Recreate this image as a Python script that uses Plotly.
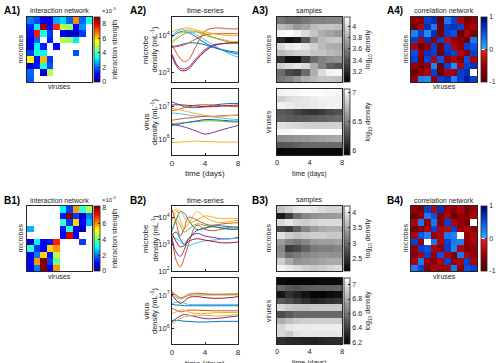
import plotly.graph_objects as go

# ---------------- data ----------------
cells = list(range(1, 11))

# interaction strength (x1e-5); 0 = no interaction
A1_strength = [
    [2.2, 1.8, 1.0, 0.9, 2.6, 3.0, 2.0, 6.6, 2.0, 3.6],
    [1.4, 3.2, 8.6, 1.2, 7.4, 5.0, 4.6, 1.1, 2.4, 0],
    [1.3, 7.6, 3.6, 1.6, 0, 1.0, 0.7, 0.5, 1.6, 0],
    [0.9, 2.0, 0, 1.4, 0, 4.9, 4.6, 3.2, 0, 0],
    [1.0, 3.3, 1.3, 0, 1.1, 0, 0, 0, 0, 0],
    [1.6, 3.6, 3.3, 0, 0, 0, 0, 1.8, 0, 0],
    [5.6, 1.2, 6.2, 1.6, 0, 0, 0, 0, 0, 0],
    [0.8, 1.3, 3.6, 1.8, 0, 0, 0, 0, 0, 0],
    [2.0, 0, 0.7, 4.9, 0, 0, 0, 0, 0, 0],
    [1.9, 0, 0, 0, 0, 0, 0, 0, 0, 0],
]
B1_strength = [
    [0, 0, 0, 0, 0, 3.0, 1.5, 6.0, 3.5, 4.5],
    [0, 0, 0, 0, 0, 1.2, 8.5, 1.5, 0.5, 2.0],
    [0, 0, 0, 0, 0, 3.5, 1.5, 5.5, 1.0, 2.5],
    [2.5, 0, 0, 0, 0, 1.2, 3.5, 1.0, 0.5, 0],
    [0, 0, 0, 0, 0, 1.0, 7.5, 1.0, 0, 0],
    [0.5, 3.0, 1.0, 1.2, 7.0, 0, 0, 0, 1.5, 0],
    [3.5, 1.5, 1.0, 5.5, 6.0, 0, 0, 0, 0, 0],
    [1.0, 2.0, 5.5, 1.2, 4.5, 0, 0, 0, 0, 0],
    [1.0, 6.0, 8.5, 1.5, 4.0, 0, 0, 0, 0, 0],
    [1.0, 2.0, 8.5, 1.0, 6.0, 0, 0, 0, 0, 0],
]
A4_corr = [
    [-0.5, -0.6, 0.6, 0.7, -0.8, 0.3, 0.6, -0.4, -0.7, -0.5],
    [-0.8, -0.4, 0.7, 0.3, -0.8, 0.6, 0.7, 0.6, -0.5, -0.4],
    [0.25, 0.6, 0.2, 0.7, -0.7, 0.6, 0.5, -0.8, -0.4, -0.7],
    [0.6, -0.4, 0.7, -0.5, 0.6, -0.3, -0.5, -0.6, -0.8, 0.3],
    [-0.4, -0.8, -0.5, 0.6, -0.7, 0.6, -0.4, -0.5, 0.6, 0.5],
    [0.5, -0.5, 0.7, 0.6, -0.8, 0.7, 0.6, -0.4, -0.6, 0.6],
    [0.6, -0.8, 0.6, -0.4, 0.5, -0.5, -0.4, -0.6, 0.5, -0.4],
    [-0.5, -0.8, -0.5, 0.25, -0.8, 0.6, 0.2, -0.4, 0.6, 0.7],
    [-0.8, -0.5, -0.4, 0.6, -0.8, -0.4, -0.5, 0.6, 0.7, 0.0],
    [-0.5, 0.25, 0.2, -0.5, 0.6, 0.7, 0.25, 0.6, 0.8, 0.6],
]
B4_corr = [
    [-0.5, -0.7, 0.6, -0.4, 0.7, -0.5, -0.6, -0.4, -0.7, -0.5],
    [-0.8, -0.5, 0.3, 0.5, -0.7, -0.4, -0.8, -0.5, -0.6, -0.4],
    [-0.4, 0.3, -0.5, 0.3, -0.6, 0.6, -0.4, -0.5, -0.7, 0.0],
    [-0.7, -0.6, -0.4, 0.6, -0.4, -0.3, 0.6, -0.5, -0.4, -0.6],
    [-0.4, 0.5, 0.25, -0.5, -0.4, 0.3, 0.25, 0.0, -0.5, -0.4],
    [0.6, -0.5, 0.0, 0.3, -0.4, 0.6, 0.3, 0.25, -0.5, -0.4],
    [-0.5, 0.6, 0.5, -0.4, -0.5, 0.6, 0.25, -0.4, -0.6, -0.5],
    [-0.6, -0.4, 0.6, -0.5, 0.5, -0.4, -0.7, 0.3, -0.4, -0.5],
    [-0.4, 0.3, -0.5, -0.6, -0.4, 0.6, -0.5, -0.4, 0.6, -0.4],
    [0.3, 0.6, -0.7, -0.4, -0.5, -0.4, 0.3, -0.6, 0.5, 0.6],
]

ts_days = [0, 0.5, 1, 1.5, 2, 3, 4, 5, 6, 7, 8]
# log10 densities
A2_microbe_log = [
    [3.95, 4.05, 4.10, 4.10, 4.08, 3.95, 3.80, 3.70, 3.62, 3.55, 3.50],
    [3.75, 3.55, 3.38, 3.30, 3.35, 3.75, 4.12, 4.20, 4.20, 4.18, 4.18],
    [3.85, 3.95, 4.05, 4.12, 4.15, 4.10, 4.00, 3.95, 3.90, 3.85, 3.82],
    [3.50, 3.25, 3.12, 3.10, 3.15, 3.40, 3.62, 3.75, 3.78, 3.80, 3.80],
    [3.80, 3.90, 3.98, 4.05, 4.08, 4.10, 4.05, 3.95, 3.88, 3.82, 3.78],
    [4.00, 4.10, 4.15, 4.15, 4.12, 4.02, 3.88, 3.75, 3.62, 3.50, 3.42],
    [3.45, 3.20, 3.07, 3.05, 3.10, 3.35, 3.58, 3.72, 3.78, 3.80, 3.82],
    [3.70, 3.72, 3.75, 3.78, 3.80, 3.80, 3.75, 3.68, 3.62, 3.58, 3.55],
    [3.68, 3.70, 3.72, 3.75, 3.80, 3.92, 4.02, 4.05, 4.05, 4.05, 4.05],
    [4.10, 4.15, 4.18, 4.20, 4.20, 4.15, 4.10, 4.05, 4.02, 4.00, 4.00],
]
A2_virus_log = [
    [7.15, 7.10, 7.05, 7.00, 6.98, 6.97, 7.00, 7.05, 7.08, 7.10, 7.10],
    [6.88, 6.90, 6.93, 6.97, 7.00, 7.05, 7.06, 7.05, 7.03, 7.01, 7.00],
    [5.88, 5.89, 5.90, 5.91, 5.92, 5.93, 5.92, 5.91, 5.90, 5.90, 5.90],
    [6.45, 6.43, 6.40, 6.37, 6.33, 6.24, 6.15, 6.20, 6.28, 6.35, 6.42],
    [6.48, 6.48, 6.49, 6.50, 6.51, 6.54, 6.56, 6.56, 6.55, 6.53, 6.52],
    [6.80, 6.80, 6.78, 6.76, 6.74, 6.71, 6.70, 6.68, 6.65, 6.62, 6.60],
    [7.05, 7.06, 7.06, 7.05, 7.04, 7.02, 7.00, 7.00, 7.02, 7.04, 7.05],
    [6.42, 6.44, 6.47, 6.50, 6.52, 6.56, 6.60, 6.60, 6.58, 6.56, 6.55],
    [6.58, 6.60, 6.62, 6.64, 6.65, 6.68, 6.70, 6.70, 6.72, 6.73, 6.74],
    [6.95, 6.93, 6.90, 6.87, 6.84, 6.78, 6.73, 6.70, 6.70, 6.72, 6.74],
]
B2_microbe_log = [
    [3.50, 3.90, 4.20, 4.15, 3.90, 3.55, 3.60, 3.70, 3.68, 3.65, 3.62],
    [3.30, 2.40, 2.15, 2.50, 3.00, 3.70, 3.55, 3.50, 3.55, 3.60, 3.60],
    [4.15, 4.30, 3.90, 3.60, 3.75, 4.20, 4.00, 3.85, 3.80, 3.85, 3.88],
    [3.20, 2.70, 2.55, 2.80, 3.20, 3.40, 3.30, 3.25, 3.20, 3.20, 3.25],
    [3.45, 3.90, 3.70, 3.45, 3.55, 3.75, 3.70, 3.65, 3.60, 3.62, 3.65],
    [3.30, 3.20, 3.10, 2.95, 2.95, 3.05, 3.12, 3.15, 3.18, 3.20, 3.22],
    [3.40, 3.10, 2.90, 2.95, 3.10, 3.20, 3.15, 3.10, 3.05, 3.05, 3.08],
    [3.35, 3.45, 3.20, 3.00, 3.20, 3.50, 3.60, 3.65, 3.60, 3.55, 3.55],
    [4.30, 3.80, 3.30, 3.60, 4.00, 3.90, 3.75, 3.70, 3.75, 3.78, 3.80],
    [3.90, 4.20, 4.25, 4.00, 3.80, 3.90, 4.05, 4.00, 3.95, 3.95, 3.95],
]
B2_virus_log = [
    [6.72, 6.70, 6.70, 6.68, 6.68, 6.68, 6.68, 6.68, 6.68, 6.68, 6.68],
    [6.60, 6.55, 6.50, 6.52, 6.55, 6.55, 6.54, 6.53, 6.53, 6.53, 6.53],
    [6.45, 6.50, 6.55, 6.55, 6.50, 6.45, 6.45, 6.47, 6.48, 6.48, 6.48],
    [6.20, 6.30, 6.38, 6.42, 6.40, 6.35, 6.30, 6.30, 6.32, 6.35, 6.38],
    [7.05, 6.95, 6.88, 6.92, 6.98, 7.00, 7.00, 7.00, 7.00, 7.00, 7.00],
    [6.75, 6.78, 6.80, 6.75, 6.72, 6.72, 6.72, 6.72, 6.72, 6.72, 6.72],
    [7.00, 6.85, 6.75, 6.82, 6.92, 6.95, 6.92, 6.90, 6.90, 6.92, 6.95],
    [6.25, 6.25, 6.24, 6.22, 6.22, 6.20, 6.20, 6.21, 6.22, 6.22, 6.22],
    [7.10, 7.00, 6.92, 6.95, 7.02, 7.05, 7.03, 7.02, 7.02, 7.03, 7.03],
    [6.15, 6.22, 6.30, 6.35, 6.38, 6.40, 6.40, 6.38, 6.38, 6.40, 6.42],
]

sample_days = [0.5, 1.5, 2.5, 3.5, 4.5, 5.5, 6.5, 7.5]
A3_microbe_samples = [
    [3.55, 3.50, 3.50, 3.55, 3.60, 3.60, 3.62, 3.62],
    [3.85, 3.80, 3.70, 3.75, 3.85, 3.90, 3.90, 3.88],
    [4.12, 4.15, 4.10, 4.00, 3.90, 3.80, 3.75, 3.70],
    [3.20, 3.10, 3.15, 3.40, 3.70, 3.85, 3.90, 3.92],
    [4.00, 4.08, 4.10, 4.05, 3.95, 3.85, 3.80, 3.78],
    [3.85, 3.90, 3.95, 3.95, 3.90, 3.90, 3.85, 3.82],
    [3.25, 3.10, 3.10, 3.30, 3.50, 3.60, 3.65, 3.68],
    [3.95, 4.00, 4.05, 4.00, 3.80, 3.60, 3.45, 3.40],
    [3.50, 3.35, 3.30, 3.50, 3.80, 4.00, 4.10, 4.12],
    [3.55, 3.60, 3.70, 3.80, 3.85, 3.90, 3.90, 3.88],
]
A3_virus_samples = [
    [7.00, 7.02, 7.03, 7.04, 7.04, 7.04, 7.03, 7.03],
    [6.85, 6.90, 6.92, 6.95, 6.98, 7.00, 7.00, 7.00],
    [7.00, 6.98, 6.95, 6.95, 6.96, 6.98, 7.00, 7.00],
    [6.32, 6.28, 6.22, 6.16, 6.14, 6.18, 6.24, 6.28],
    [6.35, 6.33, 6.32, 6.32, 6.34, 6.36, 6.38, 6.40],
    [6.92, 6.90, 6.88, 6.86, 6.85, 6.85, 6.85, 6.85],
    [7.02, 7.03, 7.04, 7.05, 7.05, 7.05, 7.04, 7.04],
    [6.55, 6.56, 6.58, 6.60, 6.62, 6.64, 6.66, 6.68],
    [6.30, 6.32, 6.35, 6.38, 6.40, 6.40, 6.40, 6.40],
    [5.95, 5.95, 5.96, 5.96, 5.95, 5.95, 5.95, 5.95],
]
B3_microbe_samples = [
    [3.70, 3.85, 4.00, 4.05, 4.00, 3.90, 3.85, 3.85],
    [2.30, 2.60, 3.00, 3.20, 3.30, 3.35, 3.35, 3.40],
    [3.90, 4.00, 3.85, 3.80, 3.85, 3.90, 3.90, 3.90],
    [2.70, 2.60, 2.90, 3.20, 3.40, 3.50, 3.55, 3.55],
    [3.95, 3.80, 3.70, 3.75, 3.80, 3.80, 3.75, 3.75],
    [3.40, 3.20, 3.10, 3.20, 3.35, 3.40, 3.40, 3.45],
    [3.20, 2.60, 2.70, 2.90, 3.10, 3.15, 3.15, 3.20],
    [3.30, 3.00, 3.10, 3.20, 3.25, 3.30, 3.30, 3.30],
    [3.80, 3.50, 3.30, 3.35, 3.40, 3.45, 3.50, 3.50],
    [4.10, 4.00, 3.90, 3.80, 3.75, 3.80, 3.85, 3.90],
]
B3_virus_samples = [
    [6.22, 6.20, 6.20, 6.20, 6.20, 6.22, 6.22, 6.22],
    [6.55, 6.50, 6.48, 6.50, 6.52, 6.52, 6.53, 6.53],
    [6.25, 6.35, 6.30, 6.25, 6.20, 6.20, 6.22, 6.24],
    [6.50, 6.45, 6.40, 6.35, 6.30, 6.32, 6.35, 6.38],
    [6.95, 6.90, 6.88, 6.88, 6.90, 6.90, 6.90, 6.90],
    [6.45, 6.50, 6.55, 6.55, 6.55, 6.55, 6.55, 6.55],
    [6.80, 6.85, 6.90, 6.92, 6.92, 6.92, 6.92, 6.92],
    [6.95, 7.00, 7.02, 7.02, 7.03, 7.03, 7.03, 7.03],
    [6.95, 6.90, 6.98, 7.00, 7.00, 7.00, 7.00, 7.00],
    [6.35, 6.33, 6.32, 6.30, 6.30, 6.32, 6.33, 6.33],
]

# ---------------- style ----------------
W, H = 501, 363
DY = 189
FONT = "Liberation Sans"
TXT = "#262626"
LINE_COLORS = ['#0072BD', '#D95319', '#EDB120', '#7E2F8E', '#77AC30', '#4DBEEE', '#A2142F']
JET = [[0, 'rgb(0,0,143)'], [0.125, 'rgb(0,0,255)'], [0.375, 'rgb(0,255,255)'],
       [0.625, 'rgb(255,255,0)'], [0.875, 'rgb(255,0,0)'], [1, 'rgb(128,0,0)']]
GRAY = [[0, 'rgb(0,0,0)'], [1, 'rgb(255,255,255)']]
CORR = [[0, 'rgb(80,0,0)'], [0.25, 'rgb(150,0,5)'], [0.495, 'rgb(235,30,30)'],
        [0.495, 'rgb(255,255,255)'], [0.505, 'rgb(255,255,255)'],
        [0.505, 'rgb(50,175,255)'], [0.75, 'rgb(10,80,230)'], [1, 'rgb(0,0,110)']]


def px(v):
    return v / W


def py(v):
    return 1 - v / H


def an(k, axis):
    return axis if k == 1 else f'{axis}{k}'


fig = go.Figure()
layout = dict(width=W, height=H, margin=dict(l=0, r=0, t=0, b=0), autosize=False,
              paper_bgcolor='white', plot_bgcolor='white', showlegend=False,
              font=dict(family=FONT, size=8, color=TXT))
annotations = []

BOX = dict(showgrid=False, zeroline=False, showline=True, mirror=True,
           linecolor=TXT, linewidth=0.8)


def set_axes(k, x0, x1, y0, y1, xa, ya):
    layout['xaxis' if k == 1 else f'xaxis{k}'] = dict(domain=[px(x0), px(x1)], anchor=an(k, 'y'), **BOX, **xa)
    layout['yaxis' if k == 1 else f'yaxis{k}'] = dict(domain=[py(y1), py(y0)], anchor=an(k, 'x'), **BOX, **ya)


def text(x, y, s, size=8, angle=0, anchor='center', bold=False):
    annotations.append(dict(x=px(x), y=py(y), xref='paper', yref='paper', text=f'<b>{s}</b>' if bold else s,
                            showarrow=False, textangle=angle, xanchor=anchor, yanchor='middle',
                            font=dict(size=size, color=TXT if not bold else 'black', family=FONT)))


def cbar(x0, y0, y1, tickvals, ticktext, title=''):
    return dict(x=px(x0), xanchor='left', xpad=0, y=py((y0 + y1) / 2), yanchor='middle', ypad=0,
                len=(y1 - y0) / H, lenmode='fraction', thickness=6, thicknessmode='pixels',
                outlinewidth=0.8, outlinecolor=TXT, ticks='inside', ticklen=2, tickwidth=0.6,
                tickcolor=TXT, tickvals=tickvals, ticktext=ticktext,
                tickfont=dict(size=7, color=TXT, family=FONT),
                title=dict(text=title, side='right', font=dict(size=7, color=TXT, family=FONT)))


NOTICK = dict(showticklabels=False, ticks='')
TICKF = dict(size=7.5, color=TXT, family=FONT)

rows = [
    ('A', 0, A1_strength, A2_microbe_log, A2_virus_log, A3_microbe_samples, A3_virus_samples, A4_corr,
     [2.75, 4.5], [5.5, 7.55], [3.02, 4.16], [5.92, 7.06], 8.9,
     [3.2, 3.4, 3.6, 3.8, 4], ['3.2', '3.4', '3.6', '3.8', '4'], [6, 6.5, 7], ['6', '6.5', '7'],
     [1e3, 1e4], ['10<sup>3</sup>', '10<sup>4</sup>']),
    ('B', DY, B1_strength, B2_microbe_log, B2_virus_log, B3_microbe_samples, B3_virus_samples, B4_corr,
     [2.0, 4.42], [5.55, 7.5], [2.1, 4.2], [6.18, 7.09], 8.25,
     [2.5, 3, 3.5, 4], ['2.5', '3', '3.5', '4'], [6.2, 6.4, 6.6, 6.8, 7], ['6.2', '6.4', '6.6', '6.8', '7'],
     [1e2, 1e3, 1e4], ['10<sup>2</sup>', '10<sup>3</sup>', '10<sup>4</sup>']),
]

for r, (lab, dy, strength, mic, vir, smic, svir, corr, mrng, vrng, srng, vsrng, zmax,
        stv, stt, vtv, vtt, mtv, mtt) in enumerate(rows):
    base = r * 6
    T0, T1 = 17 + dy, 82 + dy
    B0, B1 = 89 + dy, 155 + dy

    # panel 1: interaction network
    k = base + 1
    set_axes(k, 27, 92, T0, T1, dict(range=[0.5, 10.5], **NOTICK), dict(range=[10.5, 0.5], **NOTICK))
    z = [[v if v > 0 else None for v in row] for row in strength]
    fig.add_trace(go.Heatmap(z=z, x=cells, y=cells, xaxis=an(k, 'x'), yaxis=an(k, 'y'),
                             colorscale=JET, zmin=0, zmax=zmax, hoverongaps=False,
                             colorbar=cbar(94, T0, T1, [0, 2, 4, 6, 8], ['0', '2', '4', '6', '8'],
                                           'interaction strength')))
    text(2, 11 + dy, f'{lab}1)', size=10, anchor='left', bold=True)
    text(59.5, 11 + dy, 'interaction network', size=7)
    text(100, 10 + dy, '×10<sup>-5</sup>', size=6, anchor='left')
    text(20, 49.5 + dy, 'microbes', size=7, angle=-90)
    text(59.5, 87 + dy, 'viruses', size=7)

    # panel 2: time series
    k = base + 2
    xa = dict(range=[0, 8], tickvals=[0, 4, 8], showticklabels=False, ticks='inside', ticklen=2, tickcolor=TXT)
    set_axes(k, 172, 238, T0, T1, xa,
             dict(type='log', range=mrng, tickvals=mtv, ticktext=mtt, ticks='inside', ticklen=2,
                  tickcolor=TXT, tickfont=TICKF))
    for i, row in enumerate(mic):
        fig.add_trace(go.Scatter(x=ts_days, y=[10 ** v for v in row], mode='lines',
                                 line=dict(color=LINE_COLORS[i % 7], width=1, shape='spline'),
                                 xaxis=an(k, 'x'), yaxis=an(k, 'y')))
    k = base + 3
    xa2 = dict(xa, showticklabels=True, tickfont=dict(size=8, color=TXT, family=FONT))
    set_axes(k, 172, 238, B0, B1, xa2,
             dict(type='log', range=vrng, tickvals=[1e6, 1e7], ticktext=['10<sup>6</sup>', '10<sup>7</sup>'],
                  ticks='inside', ticklen=2, tickcolor=TXT, tickfont=TICKF))
    for i, row in enumerate(vir):
        fig.add_trace(go.Scatter(x=ts_days, y=[10 ** v for v in row], mode='lines',
                                 line=dict(color=LINE_COLORS[i % 7], width=1, shape='spline'),
                                 xaxis=an(k, 'x'), yaxis=an(k, 'y')))
    text(128, 11 + dy, f'{lab}2)', size=10, anchor='left', bold=True)
    text(205, 11 + dy, 'time-series', size=7.5)
    text(145.5, 49.5 + dy, 'microbe', size=8, angle=-90)
    text(154, 49.5 + dy, 'density (mL<sup>-1</sup>)', size=7.5, angle=-90)
    text(145.5, 122 + dy, 'virus', size=8, angle=-90)
    text(154, 122 + dy, 'density (mL<sup>-1</sup>)', size=7.5, angle=-90)
    text(205, 174 + dy, 'time (days)', size=8)

    # panel 3: samples
    k = base + 4
    set_axes(k, 277, 342, T0, T1, dict(range=[0, 8], **NOTICK), dict(range=[10.5, 0.5], **NOTICK))
    fig.add_trace(go.Heatmap(z=smic, x=sample_days, y=cells, xaxis=an(k, 'x'), yaxis=an(k, 'y'),
                             colorscale=GRAY, zmin=srng[0], zmax=srng[1],
                             colorbar=cbar(344, T0, T1, stv, stt, 'log<sub>10</sub> density')))
    k = base + 5
    set_axes(k, 277, 342, B0, B1,
             dict(range=[0, 8], tickvals=[0, 4, 8], ticks='', tickfont=dict(size=7.5, color=TXT, family=FONT)),
             dict(range=[10.5, 0.5], **NOTICK))
    fig.add_trace(go.Heatmap(z=svir, x=sample_days, y=cells, xaxis=an(k, 'x'), yaxis=an(k, 'y'),
                             colorscale=GRAY, zmin=vsrng[0], zmax=vsrng[1],
                             colorbar=cbar(344, B0, B1, vtv, vtt, 'log<sub>10</sub> density')))
    text(250, 11 + dy, f'{lab}3)', size=10, anchor='left', bold=True)
    text(309.5, 11 + dy, 'samples', size=7)
    text(268, 49.5 + dy, 'microbes', size=7, angle=-90)
    text(268, 122 + dy, 'viruses', size=7, angle=-90)
    text(309.5, 174 + dy, 'time (days)', size=7)

    # panel 4: correlation network
    k = base + 6
    set_axes(k, 411, 477, T0, T1, dict(range=[0.5, 10.5], **NOTICK), dict(range=[10.5, 0.5], **NOTICK))
    fig.add_trace(go.Heatmap(z=corr, x=cells, y=cells, xaxis=an(k, 'x'), yaxis=an(k, 'y'),
                             colorscale=CORR, zmin=-1, zmax=1,
                             colorbar=cbar(481, T0, T1, [-1, 0, 1], ['-1', '0', '1'])))
    text(385, 11 + dy, f'{lab}4)', size=10, anchor='left', bold=True)
    text(444, 11 + dy, 'correlation network', size=7)
    text(405, 49.5 + dy, 'microbes', size=7, angle=-90)
    text(444, 87 + dy, 'viruses', size=7)

layout['annotations'] = annotations
fig.update_layout(template='none')
fig.update_layout(**layout)
fig.write_html("out.html")
